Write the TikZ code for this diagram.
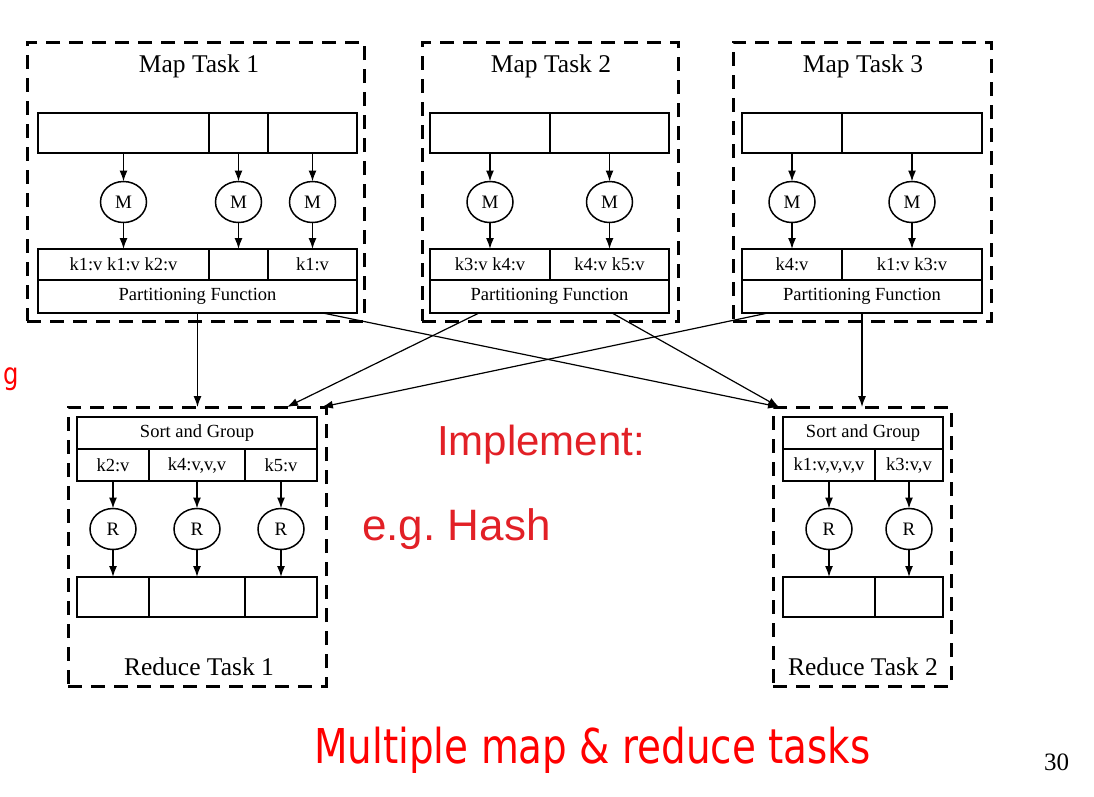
\documentclass[tikz,border=0pt]{standalone}
\usepackage{fontspec}
\setmainfont{Liberation Serif}
\newfontfamily\slidefont[FakeStretch=0.81]{DejaVu Sans}
\newfontfamily\handfont{Liberation Sans}
\usetikzlibrary{arrows.meta,shapes.geometric,calc}
\definecolor{slidered}{RGB}{255,0,0}
\definecolor{inkred}{RGB}{226,32,38}
\tikzset{
  taskbox/.style={draw, line width=3pt, dash pattern=on 14pt off 9pt, inner sep=0pt, outer sep=0pt},
  cell/.style={draw, line width=1.5pt, inner sep=0pt, outer sep=0pt, font=\fontsize{18.5}{20}\selectfont},
  proc/.style={draw, ellipse, line width=1.5pt, minimum width=46pt, minimum height=41pt, inner sep=0pt, outer sep=0pt, font=\fontsize{19}{20}\selectfont},
  arr/.style={line width=1.4pt, -{Latex[length=11pt,width=8pt]}},
  link/.style={line width=1.2pt, -{Latex[length=11pt,width=8pt]}},
  tasktitle/.style={font=\fontsize{25.5}{27}\selectfont, anchor=base, inner sep=0pt},
}
\newcommand{\cellat}[7]{\node[#7, minimum width={#4pt-#2pt}, minimum height={#5pt-#3pt}] (#1) at ({(#2+#4)/2},{(#3+#5)/2}) {#6};}
\begin{document}
\begin{tikzpicture}[x=1pt,y=-1pt]
\useasboundingbox (0,0) rectangle (1094,796);
% ---------- Map Task 1 ----------
\cellat{t1}{27}{42}{364}{321}{}{taskbox}
\node[tasktitle] (t1title) at (199,72) {Map Task 1};
\cellat{in1a}{38}{113}{209}{153}{}{cell}
\cellat{in1b}{209}{113}{268}{153}{}{cell}
\cellat{in1c}{268}{113}{357}{153}{}{cell}
\node[proc] (m1a) at (123.5,202) {M};
\node[proc] (m1b) at (238.5,202) {M};
\node[proc] (m1c) at (312.5,202) {M};
\cellat{out1a}{38}{249}{209}{280}{k1:v k1:v k2:v}{cell}
\cellat{out1b}{209}{249}{268}{280}{}{cell}
\cellat{out1c}{268}{249}{357}{280}{k1:v}{cell}
\cellat{p1}{38}{280}{357}{313}{Partitioning Function}{cell}
% ---------- Map Task 2 ----------
\cellat{t2}{422}{42}{678}{321}{}{taskbox}
\node[tasktitle] (t2title) at (551,72) {Map Task 2};
\cellat{in2a}{430}{113}{550}{153}{}{cell}
\cellat{in2b}{550}{113}{669}{153}{}{cell}
\node[proc] (m2a) at (490,202) {M};
\node[proc] (m2b) at (609.5,202) {M};
\cellat{out2a}{430}{249}{550}{280}{k3:v k4:v}{cell}
\cellat{out2b}{550}{249}{669}{280}{k4:v k5:v}{cell}
\cellat{p2}{430}{280}{669}{313}{Partitioning Function}{cell}
% ---------- Map Task 3 ----------
\cellat{t3}{733}{42}{991}{321}{}{taskbox}
\node[tasktitle] (t3title) at (863,72) {Map Task 3};
\cellat{in3a}{742}{113}{842}{153}{}{cell}
\cellat{in3b}{842}{113}{982}{153}{}{cell}
\node[proc] (m3a) at (792,202) {M};
\node[proc] (m3b) at (912,202) {M};
\cellat{out3a}{742}{249}{842}{280}{k4:v}{cell}
\cellat{out3b}{842}{249}{982}{280}{k1:v k3:v}{cell}
\cellat{p3}{742}{280}{982}{313}{Partitioning Function}{cell}
% ---------- Reduce Task 1 ----------
\cellat{r1}{68}{407}{326}{686}{}{taskbox}
\node[tasktitle] (r1title) at (199,675) {Reduce Task 1};
\cellat{sg1}{77}{417}{317}{449}{Sort and Group}{cell}
\cellat{k1a}{77}{449}{149}{481}{k2:v}{cell}
\cellat{k1b}{149}{449}{245}{481}{k4:v,v,v}{cell}
\cellat{k1c}{245}{449}{317}{481}{k5:v}{cell}
\node[proc] (ra) at (113,529) {R};
\node[proc] (rb) at (197,529) {R};
\node[proc] (rc) at (281,529) {R};
\cellat{o1a}{77}{577}{149}{617}{}{cell}
\cellat{o1b}{149}{577}{245}{617}{}{cell}
\cellat{o1c}{245}{577}{317}{617}{}{cell}
% ---------- Reduce Task 2 ----------
\cellat{r2}{773}{407}{951}{686}{}{taskbox}
\node[tasktitle] (r2title) at (863,675) {Reduce Task 2};
\cellat{sg2}{783}{417}{943}{449}{Sort and Group}{cell}
\cellat{k2a}{783}{449}{875}{481}{k1:v,v,v,v}{cell}
\cellat{k2b}{875}{449}{943}{481}{k3:v,v}{cell}
\node[proc] (rd) at (829,529) {R};
\node[proc] (re) at (909,529) {R};
\cellat{o2a}{783}{577}{875}{617}{}{cell}
\cellat{o2b}{875}{577}{943}{617}{}{cell}
% ---------- inner arrows ----------
\foreach \a/\b/\c in {in1a/m1a/out1a, in1b/m1b/out1b, in1c/m1c/out1c,
                      in2a/m2a/out2a, in2b/m2b/out2b,
                      in3a/m3a/out3a, in3b/m3b/out3b,
                      k1a/ra/o1a, k1b/rb/o1b, k1c/rc/o1c,
                      k2a/rd/o2a, k2b/re/o2b}{
  \draw[arr] (\a.south) -- (\b);
  \draw[arr] (\b) -- (\c.north);
}
% ---------- shuffle connectors ----------
\coordinate (p1x) at ($(p1.south west)!0.893!(p1.south east)$);
\coordinate (p2x) at ($(p2.south west)!0.205!(p2.south east)$);
\coordinate (p2y) at ($(p2.south west)!0.762!(p2.south east)$);
\coordinate (p3x) at ($(p3.south west)!0.108!(p3.south east)$);
\coordinate (r1x) at ($(r1.north west)!0.849!(r1.north east)$);
\coordinate (r1y) at ($(r1.north west)!0.984!(r1.north east)$);
\coordinate (r2x) at ($(r2.north west)!0.034!(r2.north east)$);
\draw[link] (p1.south) -- (p1.south |- r1.north);
\draw[link] (p1x) -- (r2x);
\draw[link] (p2x) -- (r1x);
\draw[link] (p2y) -- (r2x);
\draw[link] (p3x) -- (r1y);
\draw[link] (p3.south) -- (p3.south |- r2.north);
% ---------- annotations ----------
\node[anchor=base east, inner sep=0pt, text=slidered, font=\slidefont\fontsize{30}{32}\selectfont] (gcut) at (19,384) {g};
\node[anchor=base west, inner sep=0pt, text=slidered, font=\slidefont\fontsize{48}{50}\selectfont] (caption) at (314,763) {Multiple map \& reduce tasks};
\node[anchor=base west, inner sep=0pt, font=\fontsize{25}{27}\selectfont] (pagenum) at (1044,770) {30};
\node[anchor=base west, inner sep=0pt, text=inkred, font=\handfont\fontsize{42}{44}\selectfont] (impl) at (437,455) {Implement:};
\node[anchor=base west, inner sep=0pt, text=inkred, font=\handfont\fontsize{44}{46}\selectfont] (hash) at (362,540) {e.g.\ Hash};
\end{tikzpicture}
\end{document}
